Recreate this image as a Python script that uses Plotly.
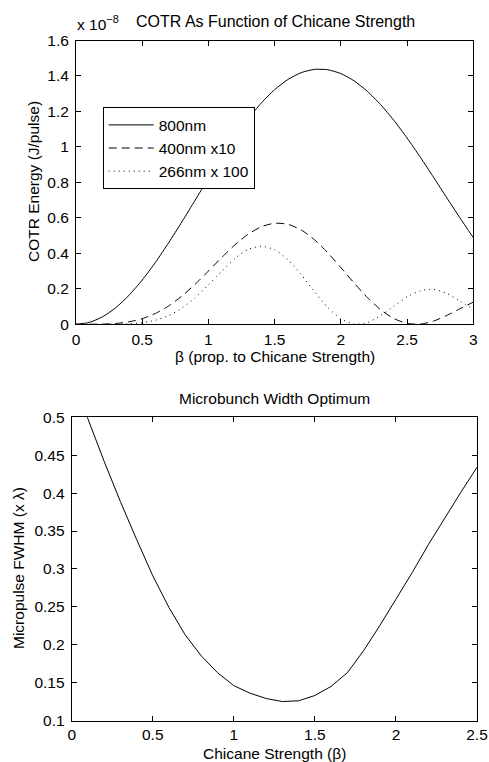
import plotly.graph_objects as go

# ---- Data (top panel, energies in units of 1e-8 J/pulse) ----
beta_top = [0.0, 0.1, 0.2, 0.3, 0.4, 0.5, 0.6, 0.7, 0.8, 0.9, 1.0,
            1.1, 1.2, 1.3, 1.4, 1.5, 1.6, 1.7, 1.8, 1.9, 2.0,
            2.1, 2.2, 2.3, 2.4, 2.5, 2.6, 2.7, 2.8, 2.9, 3.0]
cotr_800 = [0.0, 0.0106, 0.0421, 0.0935, 0.1633, 0.2494, 0.3493, 0.4600, 0.5782, 0.7004, 0.8230,
            0.9424, 1.0552, 1.1581, 1.2483, 1.3230, 1.3803, 1.4187, 1.4372, 1.4354, 1.4136,
            1.3725, 1.3136, 1.2387, 1.1500, 1.0502, 0.9421, 0.8288, 0.7134, 0.5990, 0.4886]
cotr_400x10 = [0.0, 0.0001, 0.0009, 0.0046, 0.0139, 0.0318, 0.0612, 0.1037, 0.1593, 0.2261, 0.3003,
               0.3764, 0.4480, 0.5081, 0.5503, 0.5700, 0.5640, 0.5322, 0.4773, 0.4042, 0.3198,
               0.2326, 0.1509, 0.0822, 0.0325, 0.0052, 0.0011, 0.0181, 0.0500, 0.0880, 0.1250]
cotr_266x100 = [0.0, 0.0, 0.0001, 0.0005, 0.0025, 0.0087, 0.0228, 0.0492, 0.0915, 0.1505, 0.2227,
                0.2987, 0.3708, 0.4228, 0.4400, 0.4206, 0.3642, 0.2807, 0.1843, 0.0957, 0.0307,
                0.0016, 0.0099, 0.0483, 0.1019, 0.1550, 0.1890, 0.1970, 0.1740, 0.1300, 0.0850]
legend_names = ["800nm", "400nm x10", "266nm x 100"]

# ---- Data (bottom panel) ----
beta_bottom = [0.0, 0.1, 0.2, 0.3, 0.4, 0.5, 0.6, 0.7, 0.8, 0.9, 1.0, 1.1, 1.2,
               1.3, 1.4, 1.5, 1.6, 1.7, 1.8, 1.9, 2.0, 2.1, 2.2, 2.3, 2.4, 2.5]
fwhm = [0.560, 0.498, 0.442, 0.389, 0.339, 0.291, 0.249, 0.213, 0.185, 0.163, 0.146, 0.136, 0.129,
        0.125, 0.126, 0.133, 0.145, 0.163, 0.192, 0.225, 0.260, 0.295, 0.332, 0.367, 0.401, 0.434]

W, H = 489, 762
FONT = "Liberation Sans, Arial, Helvetica, sans-serif"
FS = 15.5
FS_T = 16

def px_x(p):
    return p / W

def px_y(p):
    return 1 - p / H

fig = go.Figure()
line_styles = ["solid", "8px,5px", "1px,4px"]
for ys, name, dash in zip([cotr_800, cotr_400x10, cotr_266x100], legend_names, line_styles):
    fig.add_trace(go.Scatter(x=beta_top, y=ys, mode="lines", name=name,
                             line=dict(color="black", width=1, dash=dash, shape="spline", smoothing=0.6),
                             xaxis="x", yaxis="y"))
fig.add_trace(go.Scatter(x=beta_bottom, y=fwhm, mode="lines", showlegend=False,
                         line=dict(color="black", width=1),
                         xaxis="x2", yaxis="y2"))

axis_common = dict(showline=True, linecolor="black", linewidth=1, mirror="ticks",
                   ticks="inside", ticklen=5, tickcolor="black", tickwidth=1,
                   showgrid=False, zeroline=False, automargin=False,
                   tickfont=dict(family=FONT, size=FS, color="black"))

fig.update_layout(
    template="none",
    width=W, height=H,
    margin=dict(l=0, r=0, t=0, b=0, pad=0),
    paper_bgcolor="white", plot_bgcolor="white",
    font=dict(family=FONT, size=FS, color="black"),
    xaxis=dict(domain=[px_x(76), px_x(473.3)], range=[0, 3], tick0=0, dtick=0.5,
               anchor="y", ticklabelstandoff=1, **axis_common),
    yaxis=dict(domain=[px_y(324.3), px_y(40.5)], range=[0, 1.6], tick0=0, dtick=0.2,
               anchor="x", ticklabelstandoff=3, **axis_common),
    xaxis2=dict(domain=[px_x(71.7), px_x(477)], range=[0, 2.5], tick0=0, dtick=0.5,
                anchor="y2", ticklabelstandoff=0, **axis_common),
    yaxis2=dict(domain=[px_y(720.5), px_y(417.3)], range=[0.1, 0.5], tick0=0.1, dtick=0.05,
                anchor="x2", ticklabelstandoff=3, **axis_common),
    legend=dict(x=px_x(102.7), y=px_y(107.3), xanchor="left", yanchor="top",
                bgcolor="white", bordercolor="black", borderwidth=1,
                font=dict(family=FONT, size=FS, color="black"),
                itemwidth=45, tracegroupgap=0),
    showlegend=True,
)

ann = [
    dict(text="COTR As Function of Chicane Strength", x=px_x(275), y=px_y(21.5), size=FS_T),
    dict(text="x 10<sup>−8</sup>", x=px_x(75), y=px_y(35.5), size=FS,
         xanchor="left", yanchor="bottom"),
    dict(text="β (prop. to Chicane Strength)", x=px_x(275), y=px_y(356), size=FS),
    dict(text="COTR Energy (J/pulse)", x=px_x(33), y=px_y(182), textangle=-90, size=FS),
    dict(text="Microbunch Width Optimum", x=px_x(274), y=px_y(398), size=FS),
    dict(text="Chicane Strength (β)", x=px_x(274), y=px_y(753), size=FS),
    dict(text="Micropulse FWHM (x λ)", x=px_x(18), y=px_y(568), textangle=-90, size=FS),
]
annotations = []
for a in ann:
    size = a.pop("size")
    base = dict(xref="paper", yref="paper", showarrow=False, xanchor="center", yanchor="middle",
                font=dict(family=FONT, size=size, color="black"))
    base.update(a)
    annotations.append(base)
fig.update_layout(annotations=annotations)

fig.write_html("out.html",
               config={"displayModeBar": False},
               post_script="document.body.style.margin='0px';document.body.style.overflow='hidden';")
